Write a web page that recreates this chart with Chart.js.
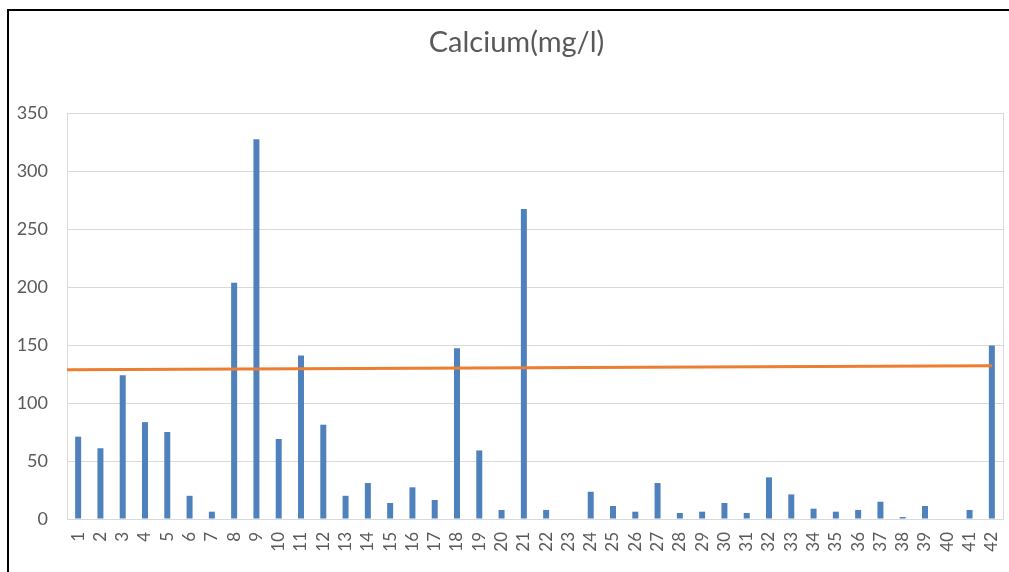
<!DOCTYPE html>
<html>
<head>
<meta charset="utf-8">
<script src="https://cdn.jsdelivr.net/npm/chart.js@4"></script>
<style>
  html, body { margin: 0; padding: 0; background: #fff; }
  .wrap { position: relative; width: 1009px; height: 572px; overflow: hidden; }
  .frame {
    position: absolute; left: 7px; top: 9px; width: 1100px; height: 700px;
    border-left: 2px solid #000; border-top: 2px solid #000; pointer-events: none;
  }
  canvas { position: absolute; left: 0; top: 0; }
</style>
</head>
<body>
<div class="wrap">
  <canvas id="chart" width="1009" height="572"></canvas>
  <div class="frame"></div>
</div>
<script>
// amostras 1..42
const SAMPLES = Array.from({ length: 42 }, (_, i) => String(i + 1));

// cálcio (mg/l)
const CALCIUM = [
  71, 61, 124, 83.5, 75, 20, 6.3, 203.6, 327.3, 69,
  141, 81.3, 20, 31, 13.8, 27.3, 16.4, 147.3, 59.1, 7.8,
  267.3, 7.8, 0, 23.5, 11.2, 6.3, 31, 5.2, 6.3, 13.8,
  5.2, 35.9, 21.2, 8.9, 6.3, 7.8, 14.9, 1.7, 11.2, 0,
  7.8, 149.6
];

// linha de tendência (laranja), x em número da amostra
const TREND_X = [0.5, 42];
const TREND_Y = [128.6, 132.1];

const Y_TICKS = [0, 50, 100, 150, 200, 250, 300, 350];

const GRID = "#D9D9D9";
const TEXT = "#595959";
const FONT = "Lato, 'Liberation Sans', sans-serif";

// contorno da área de plotagem
const plotBorder = {
  id: "plotBorder",
  beforeDatasetsDraw(chart) {
    const { ctx, chartArea: a } = chart;
    ctx.save();
    ctx.strokeStyle = GRID;
    ctx.lineWidth = 1;
    ctx.strokeRect(Math.round(a.left) + 0.5, Math.round(a.top) + 0.5,
      Math.round(a.right - a.left), Math.round(a.bottom - a.top));
    ctx.restore();
  }
};

// empurra o título um pouco pra direita (centralizado como no Excel)
const titleShift = {
  id: "titleShift",
  afterLayout(chart) {
    if (chart.titleBlock) chart.titleBlock.left += 30;
  }
};

new Chart(document.getElementById("chart").getContext("2d"), {
  type: "bar",
  data: {
    labels: SAMPLES,
    datasets: [
      {
        type: "bar",
        label: "Calcium",
        data: CALCIUM,
        backgroundColor: "#4F81BD",
        barThickness: 6,
        grouped: false,
        inflateAmount: 0,
        order: 1
      },
      {
        type: "line",
        label: "Trend",
        data: TREND_X.map((x, i) => ({ x, y: TREND_Y[i] })),
        xAxisID: "xLine",
        borderColor: "#ED7D31",
        borderWidth: 3,
        pointRadius: 0,
        fill: false,
        order: 0
      }
    ]
  },
  options: {
    responsive: false,
    animation: false,
    layout: { padding: { left: 0, right: 6, top: 0, bottom: 0 } },
    plugins: {
      legend: { display: false },
      tooltip: { enabled: false },
      title: {
        display: true,
        text: "Calcium(mg/l)",
        color: TEXT,
        font: { family: FONT, size: 29, weight: "normal" },
        padding: { top: 25, bottom: 53.2 }
      }
    },
    scales: {
      x: {
        type: "category",
        offset: true,
        grid: { display: false, drawTicks: false },
        border: { display: true, color: GRID },
        ticks: {
          color: TEXT,
          font: { family: FONT, size: 17 },
          minRotation: 90,
          maxRotation: 90,
          autoSkip: false,
          padding: 13
        },
        afterFit(scale) {
          scale.height = 53;
          scale.paddingLeft = 0;
          scale.paddingRight = 0;
        }
      },
      xLine: {
        type: "linear",
        offset: false,
        min: 0.5,
        max: 42.5,
        display: false
      },
      y: {
        min: 0,
        max: 350,
        grid: { color: GRID, drawTicks: false, tickLength: 0 },
        border: { display: false },
        afterBuildTicks(scale) { scale.ticks = Y_TICKS.map(v => ({ value: v })); },
        ticks: {
          color: TEXT,
          font: { family: FONT, size: 18 },
          padding: 19
        },
        afterFit(scale) { scale.width = 67; }
      }
    }
  },
  plugins: [plotBorder, titleShift]
});
</script>
</body>
</html>
